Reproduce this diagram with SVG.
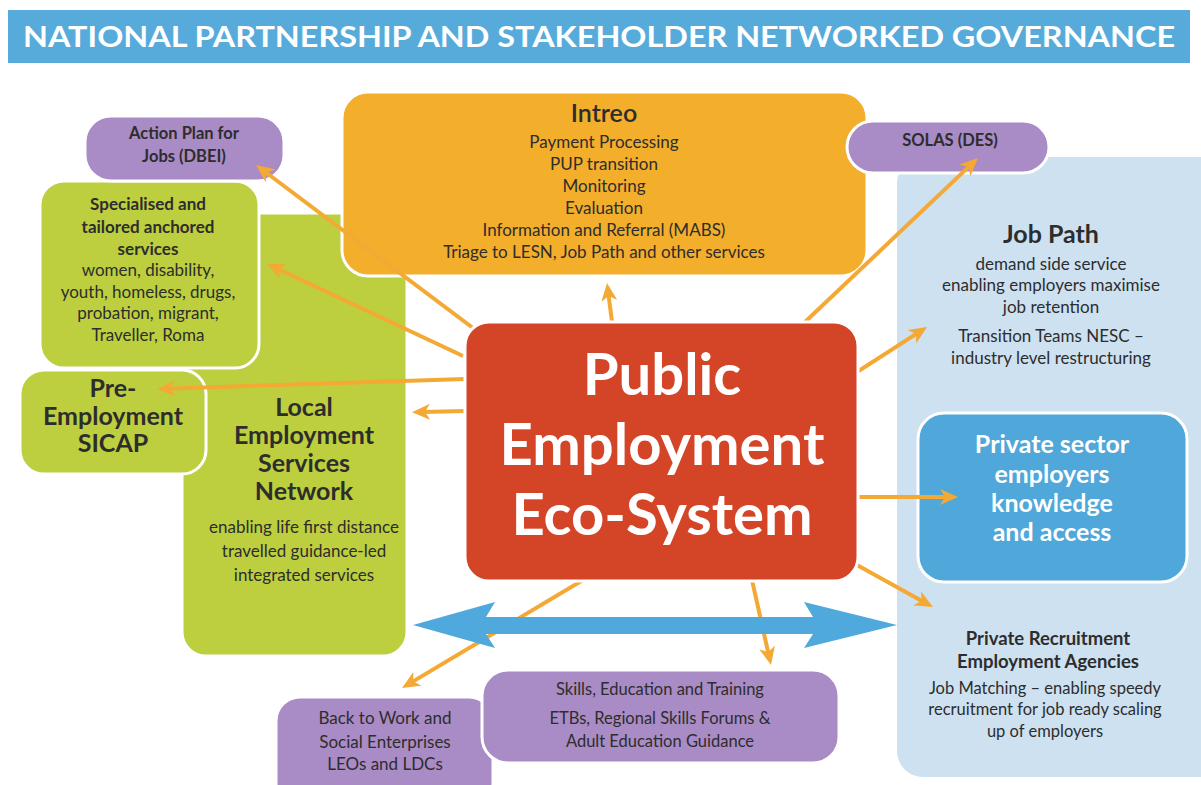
<svg xmlns="http://www.w3.org/2000/svg" width="1201" height="785" viewBox="0 0 1201 785">
  <style>
    text { font-family: Lato, "Open Sans", "Liberation Sans", sans-serif; fill: #2d2d2d; text-anchor: middle; }
    .b { font-weight: bold; }
    .w { fill: #ffffff; }
    .box { stroke: #ffffff; stroke-width: 3; }
    .orange { fill: #F3AE2C; }
    .purple { fill: #A98BC5; }
    .green { fill: #BDCF3E; }
    .red { fill: #D44528; }
    .pale { fill: #CDE1F1; }
    .blue { fill: #4FA7DA; }
    .link { stroke: #F4A935; stroke-width: 4; fill: none; marker-end: url(#head); }
    .s17 { font-size: 17px; }
    .s16 { font-size: 16.5px; }
    .s25 { font-size: 25px; }
    .hub { font-size: 58px; font-weight: bold; fill: #ffffff; }
  </style>
  <defs>
    <marker id="head" viewBox="0 0 18 16" refX="8" refY="8" markerWidth="18" markerHeight="16" markerUnits="userSpaceOnUse" orient="auto">
      <path d="M0,0 L18,8 L0,16 L5,8 z" fill="#F4A935"/>
    </marker>
  </defs>

  <rect width="1201" height="785" fill="#ffffff"/>

  <!-- banner -->
  <g id="title">
    <rect x="8" y="10" width="1182" height="53" fill="#56ABDB"/>
    <text x="599" y="47" class="b w" font-size="29" textLength="1152" lengthAdjust="spacingAndGlyphs">NATIONAL PARTNERSHIP AND STAKEHOLDER NETWORKED GOVERNANCE</text>
  </g>

  <!-- right-hand panel: Job Path -->
  <g id="job-path">
    <rect x="897" y="157" width="330" height="620" rx="26" class="pale"/>
    <text x="1051" y="243" class="b s25">Job Path</text>
    <text x="1051" y="270" class="s17">demand side service</text>
    <text x="1051" y="291" class="s17">enabling employers maximise</text>
    <text x="1051" y="313" class="s17">job retention</text>
    <text x="1051" y="342" class="s17">Transition Teams NESC –</text>
    <text x="1051" y="364" class="s17">industry level restructuring</text>
  </g>

  <g id="private-recruitment">
    <text x="1048" y="645" class="b" font-size="18.5">Private Recruitment</text>
    <text x="1048" y="668" class="b" font-size="18.5">Employment Agencies</text>
    <text x="1045" y="694" class="s16">Job Matching – enabling speedy</text>
    <text x="1045" y="715" class="s16">recruitment for job ready scaling</text>
    <text x="1045" y="737" class="s16">up of employers</text>
  </g>

  <g id="private-sector">
    <rect x="918" y="413" width="269" height="169" rx="26" class="box blue"/>
    <text x="1052" y="453" class="b w s25">Private sector</text>
    <text x="1052" y="483" class="b w s25">employers</text>
    <text x="1052" y="512" class="b w s25">knowledge</text>
    <text x="1052" y="541" class="b w s25">and access</text>
  </g>

  <!-- left-hand green group -->
  <g id="lesn">
    <rect x="182" y="213" width="225" height="443" rx="24" class="box green"/>
    <text x="304" y="416" class="b s25">Local</text>
    <text x="304" y="444" class="b s25">Employment</text>
    <text x="304" y="472" class="b s25">Services</text>
    <text x="304" y="500" class="b s25">Network</text>
    <text x="304" y="533" class="s17">enabling life first distance</text>
    <text x="304" y="557" class="s17">travelled guidance-led</text>
    <text x="304" y="581" class="s17">integrated services</text>
  </g>

  <g id="specialised">
    <rect x="40" y="181" width="219" height="187" rx="24" class="box green"/>
    <text x="148" y="210" class="b s17">Specialised and</text>
    <text x="148" y="233" class="b s17">tailored anchored</text>
    <text x="148" y="255" class="b s17">services</text>
    <text x="148" y="276" class="s17">women, disability,</text>
    <text x="148" y="298" class="s17">youth, homeless, drugs,</text>
    <text x="148" y="319" class="s17">probation, migrant,</text>
    <text x="148" y="341" class="s17">Traveller, Roma</text>
  </g>

  <g id="pre-employment">
    <rect x="20" y="370" width="186" height="104" rx="24" class="box green"/>
    <text x="113" y="397" class="b s25">Pre-</text>
    <text x="113" y="425" class="b s25">Employment</text>
    <text x="113" y="452" class="b s25">SICAP</text>
  </g>

  <g id="action-plan">
    <rect x="85" y="116" width="199" height="65" rx="26" class="box purple"/>
    <text x="184" y="139" class="b s16">Action Plan for</text>
    <text x="184" y="162" class="b s16">Jobs (DBEI)</text>
  </g>

  <!-- top: Intreo -->
  <g id="intreo">
    <rect x="342" y="92" width="525" height="184" rx="26" class="box orange"/>
    <text x="604" y="122" class="s25" font-weight="600">Intreo</text>
    <text x="604" y="148" class="s17">Payment Processing</text>
    <text x="604" y="170" class="s17">PUP transition</text>
    <text x="604" y="192" class="s17">Monitoring</text>
    <text x="604" y="214" class="s17">Evaluation</text>
    <text x="604" y="236" class="s17">Information and Referral (MABS)</text>
    <text x="604" y="258" class="s17">Triage to LESN, Job Path and other services</text>
  </g>

  <g id="solas">
    <rect x="847" y="121" width="202" height="52" rx="26" class="box purple"/>
    <text x="950" y="146" class="b s16">SOLAS (DES)</text>
  </g>

  <!-- bottom purple boxes -->
  <g id="back-to-work">
    <rect x="276" y="697" width="217" height="110" rx="24" class="box purple"/>
    <text x="385" y="724" class="s17">Back to Work and</text>
    <text x="385" y="748" class="s17">Social Enterprises</text>
    <text x="385" y="770" class="s17">LEOs and LDCs</text>
  </g>

  <g id="skills">
    <rect x="482" y="670" width="357" height="93" rx="26" class="box purple"/>
    <text x="660" y="695" class="s16">Skills, Education and Training</text>
    <text x="660" y="724" class="s16">ETBs, Regional Skills Forums &amp;</text>
    <text x="660" y="747" class="s16">Adult Education Guidance</text>
  </g>

  <!-- links radiating from the hub -->
  <g id="connectors">
    <line x1="473" y1="328" x2="264" y2="171" class="link"/>
    <line x1="463" y1="356" x2="276" y2="268" class="link"/>
    <line x1="465" y1="379" x2="167" y2="388.7" class="link"/>
    <line x1="465" y1="411" x2="422" y2="412" class="link"/>
    <line x1="612" y1="322" x2="608.3" y2="292.9" class="link"/>
    <line x1="805" y1="322" x2="970.7" y2="164.9" class="link"/>
    <line x1="857" y1="372" x2="918.6" y2="332.4" class="link"/>
    <line x1="857" y1="497" x2="948" y2="497" class="link"/>
    <line x1="857" y1="565" x2="924.2" y2="602.2" class="link"/>
    <line x1="752" y1="580" x2="768.8" y2="655.2" class="link"/>
    <line x1="583" y1="580" x2="410.6" y2="682.9" class="link"/>
    <!-- two-way exchange arrow -->
    <polygon points="413,625 495,602 486,617 813,617 804,602 897,625 804,648 813,634 486,634 495,648" fill="#4FA9DC"/>
  </g>

  <!-- hub -->
  <g id="public-employment">
    <rect x="465" y="322" width="393" height="259" rx="24" class="box red"/>
    <text x="662" y="395" class="hub">Public</text>
    <text x="662" y="465" class="hub">Employment</text>
    <text x="662" y="535" class="hub">Eco-System</text>
  </g>
</svg>
